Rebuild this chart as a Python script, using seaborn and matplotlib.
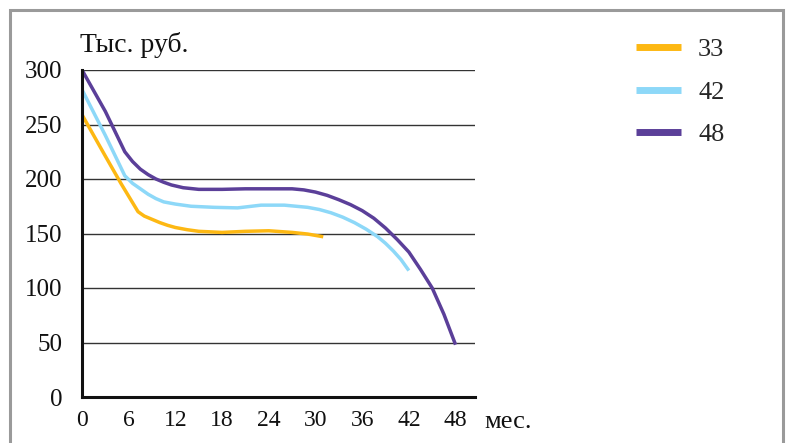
import matplotlib
matplotlib.use("Agg")
import matplotlib.pyplot as plt
import seaborn as sns
import pandas as pd
from matplotlib.patches import Rectangle
from matplotlib.lines import Line2D

# ---- data ----
months_33 = [0, 3, 5, 7.2, 8, 9, 10, 11, 12, 13.5, 15, 18, 21, 24, 27, 29, 31]
values_33 = [259, 221, 196, 170, 166, 163, 160, 157.5, 155.5, 153.5, 152, 151, 152, 152.5, 151, 149.5, 147]

months_42 = [0, 3, 5.5, 6.5, 7.5, 8.5, 9.5, 10.5, 12, 14, 17, 20, 23, 26, 29, 30.5, 32,
             33.5, 35, 36.5, 38, 39, 40, 41, 42]
values_42 = [282, 240, 203, 196, 191, 186, 182, 179, 177, 175, 174, 173.5, 176, 176, 174, 172, 169,
             165, 160, 154, 147, 141, 134, 126, 116]

months_48 = [0, 3, 5.5, 6.5, 7.5, 8.5, 9.5, 10.5, 11.5, 13, 15, 18, 21, 24, 27, 28.5, 30,
             31.5, 33, 34.5, 36, 37.5, 39, 40.5, 42, 43.5, 45, 46.5, 48]
values_48 = [300, 262, 225, 216, 209, 204, 200, 197, 194.5, 192, 190.5, 190.5, 191, 191, 191, 190, 188,
             185, 181, 176.5, 171, 164, 155, 144.5, 133, 117, 100, 76, 48]

series_names = ["33", "42", "48"]
series_colors = ["#FDB813", "#8DD8F8", "#5B3F99"]
x_ticks = [0, 6, 12, 18, 24, 30, 36, 42, 48]
y_ticks = [0, 50, 100, 150, 200, 250, 300]
y_label = "Тыс. руб."
x_label = "мес."

df = pd.concat([
    pd.DataFrame({"x": months_33, "y": values_33, "s": "33"}),
    pd.DataFrame({"x": months_42, "y": values_42, "s": "42"}),
    pd.DataFrame({"x": months_48, "y": values_48, "s": "48"}),
])

sns.set_style("white")
plt.rcParams["font.family"] = ["Liberation Serif", "DejaVu Serif"]
plt.rcParams["font.size"] = 17

fig = plt.figure(figsize=(7.89, 4.43), dpi=100)
W, H = 789, 443
ax = fig.add_axes([82 / W, 1 - 397 / H, (475 - 82) / W, (397 - 70) / H])

sns.lineplot(data=df, x="x", y="y", hue="s", palette=dict(zip(series_names, series_colors)),
             linewidth=2.5, sort=False, legend=False, ax=ax, zorder=3)
for ln in ax.get_lines():
    ln.set_solid_joinstyle("round")
    ln.set_solid_capstyle("butt")

ax.set_xlim(0, 50.5)
ax.set_ylim(0, 300)
ax.set_xticks(x_ticks)
ax.set_yticks(y_ticks)
ax.set_xlabel("")
ax.set_ylabel("")
for y in y_ticks[1:]:
    ax.axhline(y, color="#333333", linewidth=1.0, zorder=1)

for side in ["top", "right"]:
    ax.spines[side].set_visible(False)
for side in ["left", "bottom"]:
    ax.spines[side].set_color("#111111")
    ax.spines[side].set_linewidth(2.2)
    ax.spines[side].set_zorder(4)

ax.tick_params(axis="x", direction="out", length=8, width=1, color="#222222",
               labelsize=17, pad=1)
ax.tick_params(axis="y", direction="out", length=4, width=1.5, color="#222222",
               labelsize=18, pad=10)
for lab in ax.get_xticklabels() + ax.get_yticklabels():
    lab.set_color("#111111")

fig.text(80 / W, 1 - 45 / H, y_label, fontsize=20, va="center", ha="left", color="#111111")
fig.text(484 / W, 1 - 422 / H, x_label, fontsize=19, va="center", ha="left", color="#111111")

handles = [Line2D([0], [0], color=c, linewidth=5, solid_capstyle="butt") for c in series_colors]
fig.legend(handles, series_names, loc="upper left", bbox_to_anchor=(636 / W, 1 - 38 / H),
           frameon=False, fontsize=19, handlelength=1.7, handletextpad=0.65,
           labelspacing=0.72, borderpad=0, borderaxespad=0)

fig.patches.append(Rectangle((10 / W, -0.1), (783 - 10) / W, (1 - 10 / H) + 0.1,
                             transform=fig.transFigure, fill=False,
                             edgecolor="#9a9a9a", linewidth=2.2))

fig.savefig("out.png", dpi=100)
